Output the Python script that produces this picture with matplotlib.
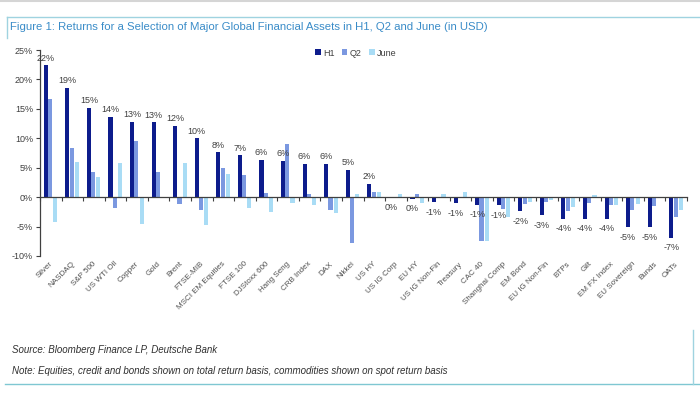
import matplotlib
matplotlib.use("Agg")
import matplotlib.pyplot as plt
from matplotlib.lines import Line2D
import numpy as np

plt.rcParams['font.family'] = ['Liberation Sans', 'DejaVu Sans']

categories = ["Silver", "NASDAQ", "S&P 500", "US WTI Oil", "Copper", "Gold", "Brent",
              "FTSE-MIB", "MSCI EM Equities", "FTSE 100", "DJStoxx 600", "Hang Seng",
              "CRB Index", "DAX", "Nikkei", "US HY", "US IG Corp", "EU HY",
              "US IG Non-Fin", "Treasury", "CAC 40", "Shanghai Comp", "EM Bond",
              "EU IG Non-Fin", "BTPs", "Gilt", "EM FX Index", "EU Sovereign", "Bunds", "OATs"]

h1 = [22.4, 18.6, 15.2, 13.7, 12.8, 12.7, 12.1, 10.0, 7.6, 7.1, 6.3, 6.2, 5.7, 5.7, 4.6,
      2.2, 0.0, -0.3, -0.9, -1.0, -1.3, -1.4, -2.4, -3.1, -3.7, -3.7, -3.7, -5.1, -5.1, -6.9]
q2 = [16.7, 8.4, 4.2, -1.9, 9.5, 4.3, -1.2, -2.2, 4.9, 3.8, 0.7, 9.1, 0.5, -2.2, -7.8,
      0.9, 0.1, 0.5, -0.2, 0.0, -7.4, -2.0, -1.1, -0.9, -2.3, -1.0, -1.3, -2.2, -1.5, -3.3]
june = [-4.2, 5.9, 3.5, 5.8, -4.5, 0.0, 5.8, -4.7, 3.9, -1.8, -2.5, -1.0, -1.3, -2.7, 0.6,
        0.8, 0.5, -1.0, 0.5, 0.9, -7.5, -3.3, -0.9, -0.5, -1.7, 0.3, -1.4, -1.1, 0.0, -2.1]

c_h1 = "#0d1c8c"
c_q2 = "#7b98e0"
c_june = "#a9dcf5"
frame_col = "#9fd3e0"
text_col = "#404040"

W, H = 700, 394
fig = plt.figure(figsize=(7.0, 3.94), dpi=100)
ax = fig.add_axes([40 / W, 1 - 256 / H, 647 / W, 206 / H])

x = np.arange(len(categories))
bw = 0.19
ax.bar(x + 0.27, h1, bw, color=c_h1, label="H1")
ax.bar(x + 0.47, q2, bw, color=c_q2, label="Q2")
ax.bar(x + 0.71, june, bw, color=c_june, label="June")

ax.set_xlim(0, len(categories))
ax.set_ylim(-10, 25)
ax.set_yticks(range(-10, 30, 5))
ax.set_yticklabels([f"{v}%" for v in range(-10, 30, 5)], fontsize=6.5, color=text_col)

ax.spines['top'].set_visible(False)
ax.spines['right'].set_visible(False)
ax.spines['bottom'].set_position(('data', 0))
for s in ('left', 'bottom'):
    ax.spines[s].set_color("#404040")
    ax.spines[s].set_linewidth(0.9)
ax.tick_params(axis='y', direction='out', length=3, width=0.8, color="#404040", pad=2)
ax.set_xticks(np.arange(len(categories) + 1))
ax.set_xticklabels([])
ax.tick_params(axis='x', direction='out', length=3, width=0.8, color="#404040")

# value labels on H1 bars
for i, v in enumerate(h1):
    lab = f"{int(round(v))}%"
    if v > 0.05:
        ax.annotate(lab, (i + 0.27, v), xytext=(0, 2), textcoords='offset points',
                    ha='center', va='bottom', fontsize=6.5, color=text_col)
    else:
        ax.annotate(lab, (i + 0.27, min(v, 0)), xytext=(0, -4), textcoords='offset points',
                    ha='center', va='top', fontsize=6.5, color=text_col)

# category labels
for i, name in enumerate(categories):
    ax.annotate(name, (i + 0.55, 0), xycoords=('data', 'axes fraction'),
                xytext=(0, -5), textcoords='offset points', rotation=45,
                rotation_mode='anchor', ha='right', va='center',
                fontsize=5.8, color="#505050")

ax.legend(loc='center', bbox_to_anchor=(356 / W, 1 - 53 / H), bbox_transform=fig.transFigure,
          ncol=3, frameon=False, fontsize=6.5, handlelength=0.6, handleheight=0.6,
          handletextpad=0.3, columnspacing=0.8, labelcolor=text_col)

# title and frame
fig.text(10 / W, 1 - 27 / H,
         "Figure 1: Returns for a Selection of Major Global Financial Assets in H1, Q2 and June (in USD)",
         fontsize=8.2, color="#3a8cc8", va='center', ha='left')
fig.add_artist(Line2D([0, 1], [1 - 0.8 / H, 1 - 0.8 / H], transform=fig.transFigure,
                      color="#d5d5d5", lw=1.5))
fig.add_artist(Line2D([7 / W, 1], [1 - 17 / H, 1 - 17 / H], transform=fig.transFigure,
                      color=frame_col, lw=1.0))
fig.add_artist(Line2D([7 / W, 7 / W], [1 - 17 / H, 1 - 38 / H], transform=fig.transFigure,
                      color=frame_col, lw=1.0))
fig.add_artist(Line2D([5 / W, 1], [1 - 384 / H, 1 - 384 / H], transform=fig.transFigure,
                      color="#7fc7d2", lw=1.0))
fig.add_artist(Line2D([693 / W, 693 / W], [1 - 330 / H, 1 - 384 / H], transform=fig.transFigure,
                      color=frame_col, lw=1.0))

fig.text(12 / W, 1 - 350 / H, "Source: Bloomberg Finance LP, Deutsche Bank",
         fontsize=7, style='italic', color="#303030", va='center')
fig.text(12 / W, 1 - 371 / H,
         "Note: Equities, credit and bonds shown on total return basis, commodities shown on spot return basis",
         fontsize=7, style='italic', color="#303030", va='center')

fig.savefig("out.png", dpi=100)
